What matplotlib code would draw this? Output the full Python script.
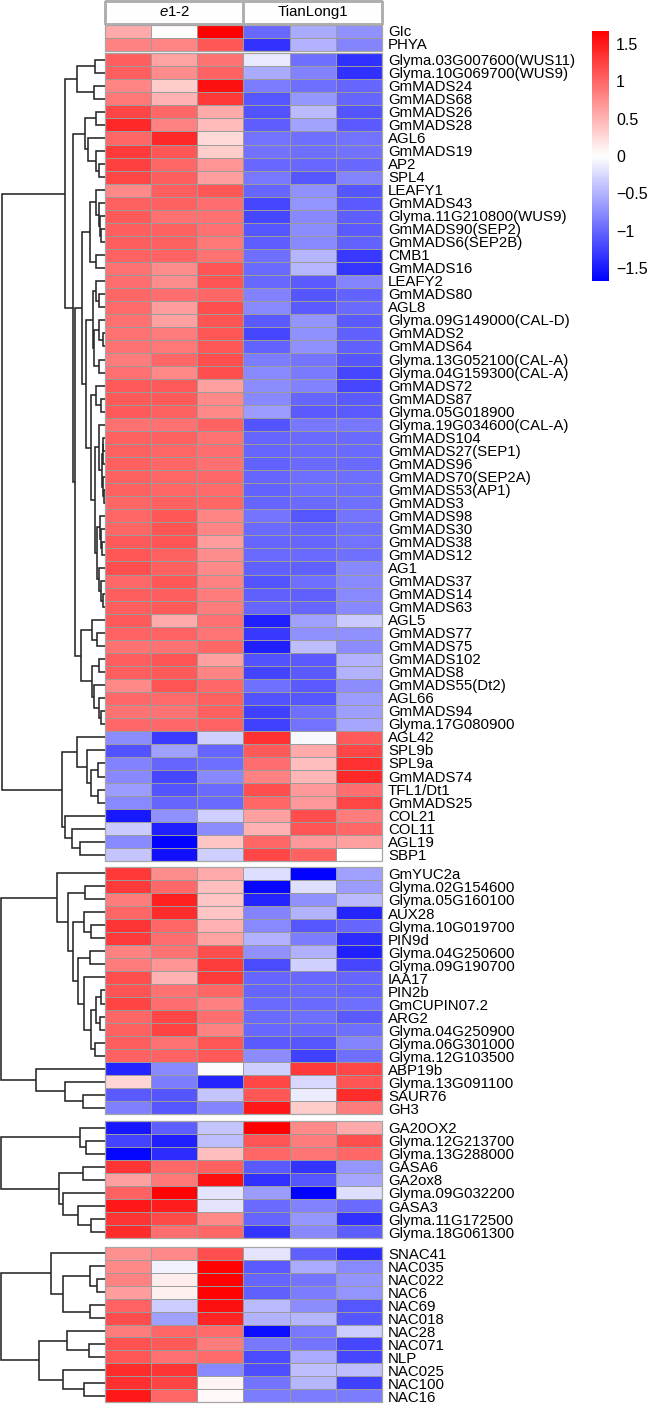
import matplotlib
matplotlib.use("Agg")
import matplotlib.pyplot as plt
from matplotlib.colors import LinearSegmentedColormap, Normalize
from matplotlib.cm import ScalarMappable
from matplotlib.patches import Rectangle
import numpy as np

plt.rcParams['font.family'] = ['Liberation Sans', 'DejaVu Sans']
plt.rcParams['mathtext.fontset'] = 'custom'
plt.rcParams['mathtext.rm'] = 'Liberation Sans'
plt.rcParams['mathtext.it'] = 'Liberation Sans:italic'

samples = ["e1-2", "TianLong1"]

labels_g1 = ["GIc", "PHYA"]
values_g1 = [
    [0.55, 0.02, 1.66, -0.98, -0.55, -0.72],
    [0.82, 0.80, 1.10, -1.34, -0.50, -0.80],
]

labels_g2 = [
    "Glyma.03G007600(WUS11)", "Glyma.10G069700(WUS9)", "GmMADS24", "GmMADS68", "GmMADS26", "GmMADS28",
    "AGL6", "GmMADS19", "AP2", "SPL4", "LEAFY1", "GmMADS43", "Glyma.11G210800(WUS9)", "GmMADS90(SEP2)",
    "GmMADS6(SEP2B)", "CMB1", "GmMADS16", "LEAFY2", "GmMADS80", "AGL8", "Glyma.09G149000(CAL-D)", "GmMADS2",
    "GmMADS64", "Glyma.13G052100(CAL-A)", "Glyma.04G159300(CAL-A)", "GmMADS72", "GmMADS87", "Glyma.05G018900",
    "Glyma.19G034600(CAL-A)", "GmMADS104", "GmMADS27(SEP1)", "GmMADS96", "GmMADS70(SEP2A)", "GmMADS53(AP1)",
    "GmMADS3", "GmMADS98", "GmMADS30", "GmMADS38", "GmMADS12", "AG1", "GmMADS37", "GmMADS14", "GmMADS63",
    "AGL5", "GmMADS77", "GmMADS75", "GmMADS102", "GmMADS8", "GmMADS55(Dt2)", "AGL66", "GmMADS94",
    "Glyma.17G080900", "AGL42", "SPL9b", "SPL9a", "GmMADS74", "TFL1/Dt1", "GmMADS25", "COL21", "COL11",
    "AGL19", "SBP1",
]
values_g2 = [
    [1.05, 0.60, 0.92, -0.15, -0.95, -1.35],
    [1.05, 0.75, 1.02, -0.55, -0.82, -1.35],
    [0.80, 0.33, 1.55, -0.85, -0.95, -1.00],
    [0.88, 0.50, 1.30, -1.10, -0.68, -1.00],
    [1.20, 1.00, 0.55, -1.13, -0.45, -1.12],
    [1.40, 0.82, 0.45, -1.05, -0.60, -1.08],
    [1.00, 1.40, 0.25, -0.92, -0.95, -0.92],
    [1.28, 1.10, 0.33, -0.92, -0.95, -0.92],
    [1.25, 1.00, 0.70, -0.98, -0.98, -0.98],
    [1.20, 1.05, 0.63, -0.88, -1.10, -0.80],
    [0.78, 1.05, 1.10, -1.00, -0.72, -1.10],
    [1.03, 1.03, 0.95, -1.20, -0.70, -1.07],
    [1.07, 0.93, 0.93, -1.20, -0.78, -1.05],
    [1.05, 1.03, 0.93, -1.10, -0.75, -1.08],
    [1.05, 1.03, 0.88, -1.05, -0.78, -1.02],
    [1.02, 1.02, 0.92, -0.95, -0.48, -1.30],
    [0.92, 0.75, 1.12, -0.97, -0.48, -1.32],
    [0.95, 0.75, 1.12, -0.98, -1.07, -0.80],
    [1.00, 0.95, 1.00, -0.82, -1.10, -1.02],
    [0.97, 0.65, 1.15, -0.78, -1.07, -0.97],
    [0.93, 0.62, 1.12, -1.07, -0.70, -1.07],
    [0.92, 0.85, 1.10, -1.20, -0.72, -1.03],
    [0.92, 0.88, 1.10, -1.02, -0.72, -1.03],
    [0.85, 1.00, 1.15, -0.85, -0.90, -1.10],
    [0.93, 0.78, 1.15, -0.78, -0.87, -1.20],
    [1.08, 1.08, 0.62, -0.75, -0.82, -1.20],
    [1.07, 1.08, 0.78, -0.78, -1.00, -1.07],
    [1.07, 1.03, 0.78, -0.65, -1.07, -1.08],
    [0.93, 0.93, 1.02, -1.12, -0.88, -0.88],
    [1.03, 1.03, 0.92, -1.00, -0.97, -0.97],
    [1.03, 1.00, 0.95, -1.00, -0.97, -0.97],
    [1.03, 1.00, 0.93, -1.02, -0.97, -0.97],
    [1.03, 1.00, 0.98, -1.00, -0.95, -0.95],
    [1.03, 1.00, 0.97, -1.02, -0.95, -0.95],
    [1.00, 1.03, 1.00, -1.00, -0.97, -0.93],
    [1.00, 1.10, 0.80, -0.90, -1.10, -0.90],
    [1.00, 1.12, 0.80, -0.97, -1.00, -0.93],
    [1.08, 1.12, 0.65, -1.00, -1.00, -0.92],
    [1.10, 1.03, 0.75, -0.97, -0.97, -0.93],
    [1.15, 1.03, 0.78, -1.03, -1.03, -0.78],
    [0.98, 1.10, 0.82, -1.12, -0.95, -0.78],
    [1.05, 1.05, 0.85, -1.03, -1.03, -0.78],
    [1.05, 1.08, 0.85, -1.00, -1.00, -0.78],
    [1.08, 0.55, 0.93, -1.45, -0.62, -0.35],
    [1.02, 1.02, 0.90, -1.30, -0.72, -0.72],
    [0.92, 0.92, 1.00, -1.45, -0.42, -0.75],
    [1.05, 1.12, 0.62, -1.13, -1.08, -0.50],
    [1.05, 1.07, 0.80, -1.22, -1.08, -0.50],
    [0.78, 1.12, 0.98, -0.93, -1.08, -0.75],
    [0.98, 0.97, 1.03, -1.13, -1.10, -0.65],
    [0.92, 0.92, 1.03, -1.25, -0.95, -0.63],
    [0.98, 0.98, 1.02, -1.25, -0.92, -0.58],
    [-0.75, -1.28, -0.30, 1.35, -0.05, 1.08],
    [-1.13, -0.62, -1.00, 1.08, 0.55, 1.20],
    [-0.82, -1.00, -0.95, 0.95, 0.42, 1.35],
    [-0.78, -1.20, -0.78, 0.82, 0.48, 1.40],
    [-0.65, -1.12, -0.97, 1.15, 0.67, 0.95],
    [-0.78, -1.00, -0.97, 1.00, 0.67, 1.20],
    [-1.50, -0.72, -0.32, 0.62, 1.17, 0.85],
    [-0.35, -1.45, -0.75, 0.52, 1.12, 1.00],
    [-0.78, -1.65, 0.38, 1.00, 0.67, 0.62],
    [-0.38, -1.55, -0.32, 1.20, 1.03, 0.00],
]

labels_g3 = [
    "GmYUC2a", "Glyma.02G154600", "Glyma.05G160100", "AUX28", "Glyma.10G019700", "PIN9d", "Glyma.04G250600",
    "Glyma.09G190700", "IAA17", "PIN2b", "GmCUPIN07.2", "ARG2", "Glyma.04G250900", "Glyma.06G301000",
    "Glyma.12G103500", "ABP19b", "Glyma.13G091100", "SAUR76", "GH3",
]
values_g3 = [
    [1.30, 0.75, 0.55, -0.22, -1.65, -0.62],
    [1.28, 0.98, 0.42, -1.62, -0.22, -0.65],
    [0.85, 1.45, 0.38, -1.42, -0.72, -0.45],
    [1.00, 1.38, 0.38, -0.80, -0.50, -1.42],
    [1.32, 1.00, 0.52, -0.78, -1.10, -1.00],
    [1.28, 0.95, 0.60, -0.50, -0.85, -1.38],
    [0.82, 0.92, 1.15, -0.72, -0.52, -1.45],
    [0.85, 0.70, 1.27, -1.18, -0.30, -1.20],
    [1.15, 0.50, 1.28, -1.00, -0.98, -1.00],
    [1.12, 0.92, 1.00, -1.00, -0.97, -1.00],
    [1.22, 0.95, 0.83, -0.97, -0.97, -0.95],
    [1.00, 1.20, 0.95, -0.97, -0.95, -1.08],
    [1.03, 1.23, 0.82, -0.98, -0.98, -0.95],
    [1.05, 0.92, 1.10, -1.08, -1.10, -0.80],
    [1.02, 1.02, 1.08, -0.75, -1.25, -0.95],
    [-1.42, -0.78, -0.02, -0.32, 1.28, 1.20],
    [0.27, -0.85, -1.43, 1.20, -0.25, 1.12],
    [-1.07, -1.10, -0.38, 1.10, -0.12, 1.38],
    [-0.83, -1.10, -0.80, 1.50, 0.33, 0.85],
]

labels_g4 = [
    "GA20OX2", "Glyma.12G213700", "Glyma.13G288000", "GASA6", "GA2ox8", "Glyma.09G032200", "GASA3",
    "Glyma.11G172500", "Glyma.18G061300",
]
values_g4 = [
    [-1.52, -1.05, -0.38, 1.66, 0.78, 0.55],
    [-1.22, -1.45, -0.42, 1.12, 0.85, 1.15],
    [-1.62, -1.38, 0.42, 1.00, 0.90, 1.00],
    [1.32, 0.98, 1.03, -1.08, -1.32, -0.68],
    [0.62, 0.88, 1.55, -1.35, -1.10, -0.58],
    [1.02, 1.65, -0.18, -0.65, -1.65, -0.22],
    [1.50, 1.48, -0.17, -0.97, -0.82, -0.97],
    [1.32, 1.18, 0.78, -1.00, -0.68, -1.35],
    [1.38, 0.95, 1.00, -1.32, -0.78, -1.05],
]

labels_g5 = [
    "SNAC41", "NAC035", "NAC022", "NAC6", "NAC69", "NAC018", "NAC28", "NAC071", "NLP", "NAC025", "NAC100", "NAC16",
]
values_g5 = [
    [0.72, 0.78, 1.15, -0.17, -1.03, -1.38],
    [0.78, -0.08, 1.65, -1.07, -0.55, -0.78],
    [0.82, 0.12, 1.65, -1.00, -0.90, -0.70],
    [0.65, 0.10, 1.65, -1.03, -0.85, -0.70],
    [1.02, -0.33, 1.55, -0.45, -0.75, -1.10],
    [1.17, -0.62, 1.42, -0.50, -0.48, -1.10],
    [0.85, 1.00, 0.97, -1.58, -0.88, -0.33],
    [1.13, 1.07, 0.85, -0.88, -0.90, -1.20],
    [1.10, 0.93, 0.97, -1.18, -0.55, -1.20],
    [1.38, 1.32, -0.78, -1.15, -0.42, -0.42],
    [1.35, 1.22, 0.07, -0.90, -0.48, -1.25],
    [1.50, 1.00, 0.05, -0.85, -0.85, -0.85],
]

# Clustering trees: (merge height, upper child, lower child); L is a leaf row.
L = None
tree_g2 = (103.5,
    (40.3,
        (28.5, (10, L, L), (11, L, L)),
        (32,
            (20, (9, L, L), (17, L, (9, L, (6, L, L)))),
            (30,
                (23,
                    (15.5, (9, L, (6, L, (5, L, (4, L, L)))), (9, L, L)),
                    (19,
                        (12.5,
                            (9, L, (6.5, L, L)),
                            (11.5, (5.7, L, (2, L, L)), (6.5, L, L))),
                        (14.3,
                            (9, L, (4.3, L, L)),
                            (10,
                                (5.7, L, (3.3, (2.2, (1.6, L, L), L), (2.2, L, (1.4, L, L)))),
                                (7.7,
                                    (5, L, (4.3, L, (3, L, L))),
                                    (6.5, L, (4.3, L, (2, L, L)))))))),
                (24,
                    (13.3, L, (8.3, L, L)),
                    (13.3, (6, L, L), (11, L, (5.7, L, (4, L, L)))))))),
    (43.3,
        (28, L, (18.3, L, (14.3, (7, L, L), (7.5, L, L)))),
        (40, L, (33.3, L, (25, L, L)))))

tree_g3 = (104,
    (48,
        L,
        (36.7,
            (20.3, L, L),
            (32.3,
                (20.7, L, (14, L, L)),
                (26.7,
                    (14.7, L, L),
                    (21.3,
                        L,
                        (14,
                            (9.3, (4, L, L), (5, L, L)),
                            (10, L, L))))))),
    (68.7,
        L,
        (40.3, L, (22, L, L))))

tree_g4 = (104,
    (25.3, L, (19.3, L, L)),
    (45.7,
        (22, L, L),
        (42.3, L, (27.3, L, (14, L, L)))))

tree_g5 = (104,
    (54.3,
        L,
        (41.7,
            (15.3, L, (8, L, L)),
            (15.3, L, L))),
    (65.7,
        (37.7, L, (16, L, L)),
        (41.7, L, (21, L, L))))

W, H = 648, 1404
fig = plt.figure(figsize=(W / 100, H / 100), dpi=100)
fig.patch.set_facecolor('white')
cmap = LinearSegmentedColormap.from_list('bwr2', ['#0000ff', '#ffffff', '#ff0000'], N=256)
norm = Normalize(-1.667, 1.667)
GRID = '#9c9c9c'
LEFT, RIGHT = 105, 382
TEXT_SIZE = 10.8


def px_axes(x0, y0, x1, y1):
    ax = fig.add_axes([x0 / W, 1 - y1 / H, (x1 - x0) / W, (y1 - y0) / H])
    ax.axis('off')
    return ax


def draw_tree(ax, node, counter):
    if node is None:
        row = counter[0]
        counter[0] += 1
        return 0.0, row + 0.5
    height, upper, lower = node
    h_a, y_a = draw_tree(ax, upper, counter)
    h_b, y_b = draw_tree(ax, lower, counter)
    ax.plot([h_a, height, height, h_b], [y_a, y_a, y_b, y_b], color='#262626', lw=1.15,
            solid_joinstyle='miter', solid_capstyle='butt', clip_on=False)
    return height, (y_a + y_b) / 2


def draw_group(labels, values, y0, y1, text_offset, tree=None):
    data = np.array(values)
    assert len(labels) == len(data)
    ax = px_axes(LEFT, y0, RIGHT, y1)
    mesh = ax.pcolormesh(np.arange(data.shape[1] + 1), np.arange(data.shape[0] + 1), data, cmap=cmap, norm=norm,
                         edgecolors=GRID, linewidth=0.68, antialiased=True, clip_on=False)
    mesh.set_snap(True)
    ax.set_xlim(0, data.shape[1])
    ax.set_ylim(data.shape[0], 0)
    ax.add_patch(Rectangle((0, 0), data.shape[1], data.shape[0], fill=False, edgecolor='#a6a6a6',
                           linewidth=0.9, clip_on=False))
    ax.axis('off')
    for i, lab in enumerate(labels):
        ax.annotate(lab, xy=(1, i + 0.5), xycoords=ax.get_yaxis_transform(), xytext=(6, -text_offset),
                    textcoords='offset pixels', va='center', ha='left', fontsize=TEXT_SIZE, color='black',
                    annotation_clip=False)
    if tree is not None:
        dax = px_axes(0, y0, LEFT, y1)
        dax.set_xlim(LEFT, 0)
        dax.set_ylim(data.shape[0], 0)
        counter = [0]
        draw_tree(dax, tree, counter)
        assert counter[0] == len(labels)
        dax.axis('off')


# sample header boxes
hax = px_axes(LEFT, 1, RIGHT, 23.5)
hax.pcolormesh([0, 1, 2], [0, 1], [[0, 0]], cmap=cmap, norm=norm, edgecolors='#b0b0b0', linewidth=0.8, clip_on=False)
hax.set_xlim(0, 2)
hax.set_ylim(1, 0)
hax.axis('off')
hax.text(0.5, 0.5, r"$\mathit{e1}$-2", ha='center', va='center', fontsize=TEXT_SIZE)
hax.text(1.5, 0.5, samples[1], ha='center', va='center', fontsize=TEXT_SIZE)

draw_group(labels_g1, values_g1, 24.6, 50.7, 0.8)
draw_group(labels_g2, values_g2, 53.3, 861.2, 1.0, tree_g2)
draw_group(labels_g3, values_g3, 866.7, 1114.3, 2.2, tree_g3)
draw_group(labels_g4, values_g4, 1121.0, 1238.3, 1.8, tree_g4)
draw_group(labels_g5, values_g5, 1246.7, 1402.3, 2.0, tree_g5)

# colour key
cb_ticks = [1.5, 1, 0.5, 0, -0.5, -1, -1.5]
cb_tick_labels = ['1.5', '1', '0.5', '0', '\u22120.5', '\u22121', '\u22121.5']
cax = fig.add_axes([592.3 / W, 1 - 281 / H, 17 / W, 250 / H])
cbar = fig.colorbar(ScalarMappable(norm=norm, cmap=cmap), cax=cax, ticks=cb_ticks)
cbar.ax.set_yticklabels(cb_tick_labels, fontsize=11.5)
cbar.ax.tick_params(length=0, pad=5)
cbar.outline.set_visible(False)

fig.savefig('out.png', dpi=100, facecolor='white')
